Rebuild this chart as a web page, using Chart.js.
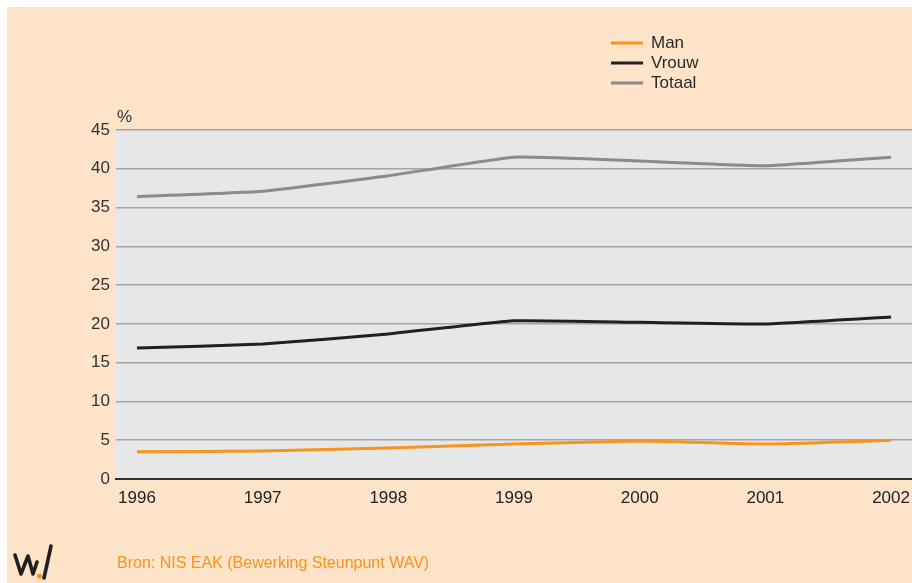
<!DOCTYPE html>
<html>
<head>
<meta charset="utf-8">
<script src="https://cdn.jsdelivr.net/npm/chart.js@4"></script>
<style>
html,body{margin:0;padding:0;background:#ffffff;}
canvas{display:block;}
</style>
</head>
<body>
<canvas id="c" width="912" height="583"></canvas>
<script>
const years = [1996, 1997, 1998, 1999, 2000, 2001, 2002];
const seriesNames = ["Man", "Vrouw", "Totaal"];
const manValues = [3.5, 3.6, 4.0, 4.5, 4.9, 4.5, 5.0];
const vrouwValues = [16.9, 17.4, 18.7, 20.4, 20.2, 20.0, 20.9];
const totaalValues = [36.4, 37.1, 39.1, 41.5, 41.0, 40.4, 41.5];
const yTicks = [0, 5, 10, 15, 20, 25, 30, 35, 40, 45];
const yUnit = "%";
const sourceText = "Bron: NIS EAK (Bewerking Steunpunt WAV)";
const colors = ["#f7941d", "#231f20", "#898b8e"];

const FONT = "'Liberation Sans', Arial, sans-serif";

function pts(vals){ return years.map((y,i)=>({x:y, y:vals[i]})); }

const decor = {
  id: 'decor',
  beforeDraw(chart){
    const ctx = chart.ctx, a = chart.chartArea;
    ctx.save();
    ctx.fillStyle = '#fde3c8';
    ctx.fillRect(7, 7, chart.width - 7, chart.height - 7);
    ctx.fillStyle = '#e6e7e9';
    ctx.fillRect(a.left, a.top, a.right - a.left, a.bottom - a.top);
    ctx.restore();
  },
  afterDraw(chart){
    const ctx = chart.ctx, a = chart.chartArea;
    ctx.save();
    ctx.font = '17px ' + FONT;
    ctx.fillStyle = '#333333';
    ctx.textAlign = 'left';
    ctx.textBaseline = 'middle';
    ctx.fillText(yUnit, a.left + 1, 117);
    chart.data.datasets.forEach((ds, i) => {
      const y = 43 + i * 20;
      ctx.strokeStyle = ds.borderColor;
      ctx.lineWidth = 3;
      ctx.beginPath();
      ctx.moveTo(611, y);
      ctx.lineTo(643, y);
      ctx.stroke();
      ctx.fillStyle = '#2a2a2a';
      ctx.font = '17px ' + FONT;
      ctx.fillText(ds.label, 651, y);
    });
    ctx.fillStyle = '#f7941d';
    ctx.font = '16px ' + FONT;
    ctx.fillText(sourceText, 117, 564);
    ctx.strokeStyle = '#231f20';
    ctx.lineWidth = 3.6;
    ctx.lineJoin = 'round';
    ctx.lineCap = 'round';
    ctx.beginPath();
    ctx.moveTo(15, 555);
    ctx.lineTo(21, 574);
    ctx.lineTo(28, 556);
    ctx.lineTo(33, 574);
    ctx.lineTo(37, 562);
    ctx.stroke();
    ctx.beginPath();
    ctx.moveTo(44, 578);
    ctx.lineTo(51, 546);
    ctx.stroke();
    ctx.fillStyle = '#f7941d';
    ctx.beginPath();
    ctx.arc(39.5, 576, 2.6, 0, Math.PI * 2);
    ctx.fill();
    ctx.restore();
  }
};

new Chart(document.getElementById('c'), {
  type: 'line',
  data: {
    datasets: [
      { label: seriesNames[0], data: pts(manValues), borderColor: colors[0], backgroundColor: colors[0] },
      { label: seriesNames[1], data: pts(vrouwValues), borderColor: colors[1], backgroundColor: colors[1] },
      { label: seriesNames[2], data: pts(totaalValues), borderColor: colors[2], backgroundColor: colors[2] }
    ].map(d => Object.assign(d, { borderWidth: 3, pointRadius: 0, tension: 0.12, fill: false }))
  },
  options: {
    responsive: false,
    animation: false,
    events: [],
    layout: { padding: { top: 130, left: 0, right: 0, bottom: 0 } },
    plugins: { legend: { display: false }, tooltip: { enabled: false } },
    scales: {
      x: {
        type: 'linear',
        min: years[0] - 1/6,
        max: years[years.length - 1] + 1/6,
        afterBuildTicks(s){ s.ticks = years.map(v => ({ value: v })); },
        afterFit(s){ s.height = 104; s.paddingRight = 0; s.paddingLeft = 0; },
        grid: { display: false, drawTicks: false },
        border: { display: true, color: '#3a2d22', width: 2 },
        ticks: {
          padding: 9,
          color: '#222222',
          font: { family: FONT, size: 17 },
          maxRotation: 0,
          autoSkip: false,
          callback: v => String(v)
        }
      },
      y: {
        min: yTicks[0],
        max: yTicks[yTicks.length - 1],
        afterBuildTicks(s){ s.ticks = yTicks.map(v => ({ value: v })); },
        afterFit(s){ s.width = 116; },
        grid: { color: '#a2a4a7', lineWidth: 1.5, drawTicks: false },
        border: { display: false },
        ticks: {
          padding: 6,
          color: '#333333',
          font: { family: FONT, size: 17 }
        }
      }
    }
  },
  plugins: [decor]
});
</script>
</body>
</html>
